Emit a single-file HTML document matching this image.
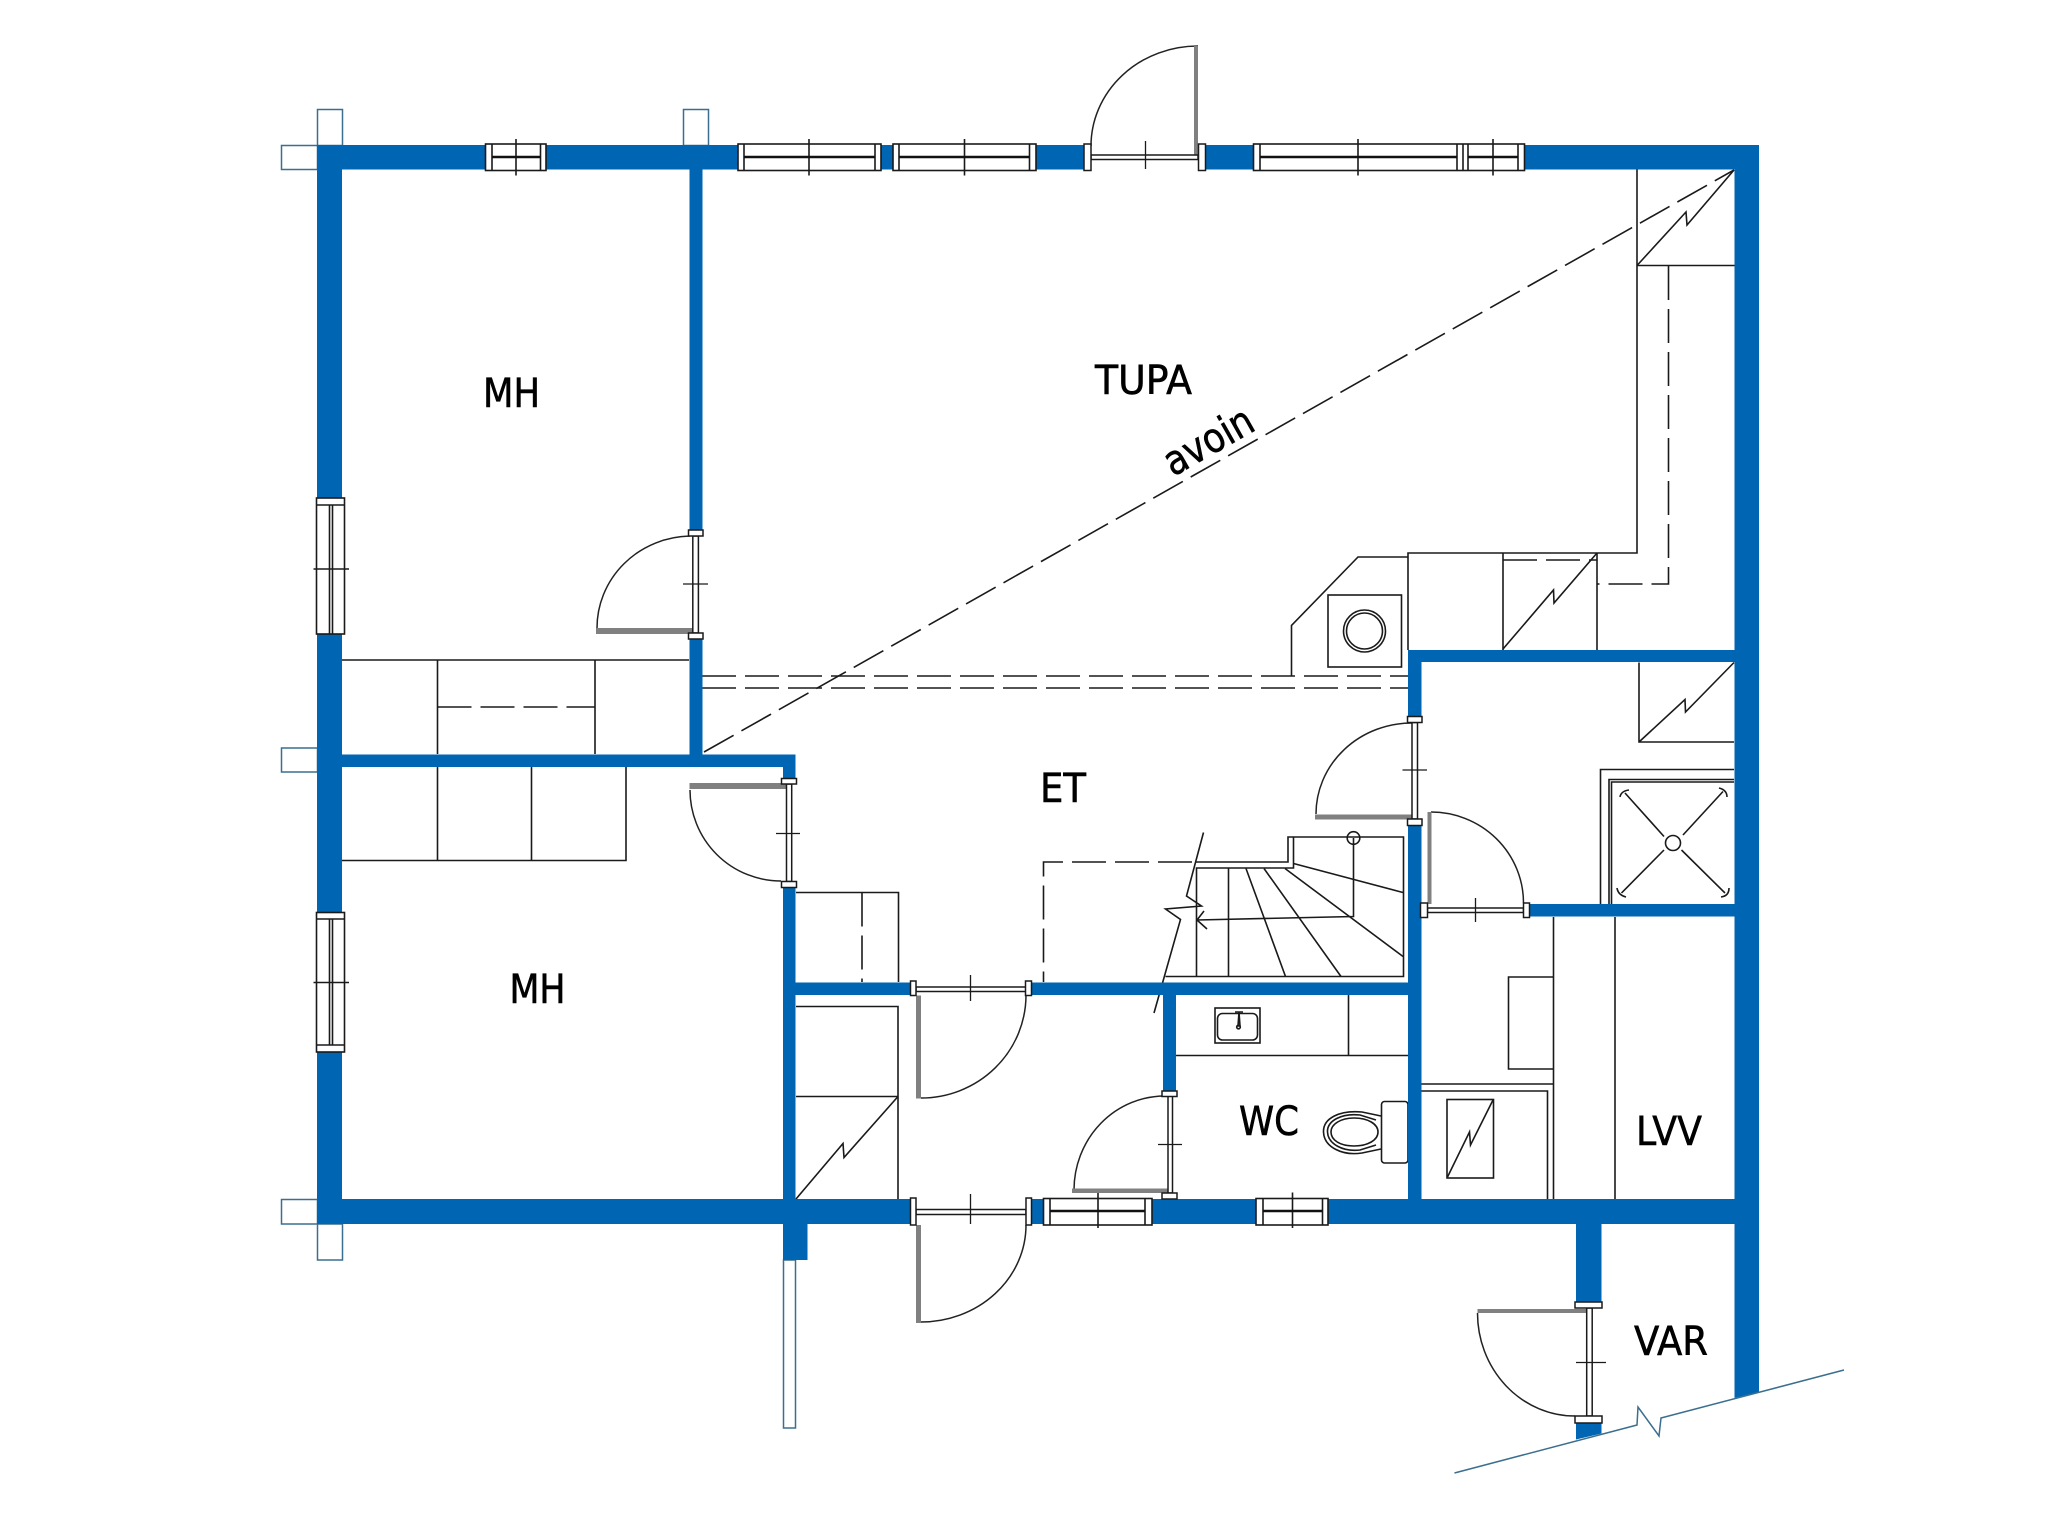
<!DOCTYPE html>
<html><head><meta charset="utf-8"><title>Floor plan</title>
<style>html,body{margin:0;padding:0;background:#fff}svg{display:block}
text{font-family:"DejaVu Sans","Liberation Sans",sans-serif;fill:#000;font-size:40px;stroke:#000;stroke-width:.6px}</style></head>
<body>
<svg width="2048" height="1536" viewBox="0 0 2048 1536" xmlns="http://www.w3.org/2000/svg">
<rect width="2048" height="1536" fill="#fff"/>

<!-- light outline stubs -->
<g fill="#fff" stroke="#3a6f8f" stroke-width="1.5">
<rect x="317.5" y="109.5" width="25" height="36"/><rect x="281.5" y="145.5" width="36" height="24"/>
<rect x="683.5" y="109.5" width="25" height="36"/><rect x="281.5" y="748" width="36" height="24"/>
<rect x="281.5" y="1199.5" width="36" height="24.5"/><rect x="317.5" y="1224" width="25" height="36"/>
<rect x="783.5" y="1260" width="12" height="168"/>
</g>

<!-- thin furniture lines -->
<g fill="none" stroke="#1a1a1a" stroke-width="1.6">
<path d="M342 660H689M437.5 660V754M595 660V754M342 860.5H626V767M437.5 767V860.5M531.5 767V860.5"/>
<path d="M796 892.5H898.5V982M796 1006.5H898V1199M796 1096.5H898"/>
<path d="M796 1199L843 1143.5L844 1157.5L898 1096.5"/>
<path d="M1637 169V553H1408V650M1503 553V650M1597 553V650M1637 265.5H1735"/>
<path d="M1637 265.5L1686 212L1687 225L1734 170"/>
<path d="M1503 649L1553.5 590L1554 603L1597 553"/>
<path d="M1408 557H1358L1291.5 625.5V676"/>
<rect x="1328" y="595" width="73.5" height="72"/>
<circle cx="1364.5" cy="631" r="21"/><circle cx="1364.5" cy="631" r="18"/>
<path d="M1734 742H1639V662.5M1639 742L1685 699.5L1685.5 712L1734 662.5"/>
<path d="M1600.5 904V769.5H1734M1609 904V779.5H1734M1611.5 904V782H1734"/>
<circle cx="1673" cy="843" r="7.5"/>
<path d="M1625 793L1664 836.5M1723 791.5L1683 835M1621.5 893L1664 850M1725 893L1681.5 850"/>
<path d="M1629 790Q1621 791 1620 797M1719 788Q1727 790 1727 797M1617 888Q1618 895 1626 897M1729 888Q1729 896 1721 897"/>
<path d="M1553.5 917V1199M1615 917V1199M1553.5 977H1508.5V1069H1553.5M1421 1084H1553.5M1421 1091H1547.5V1199"/>
<rect x="1447" y="1099.5" width="46.5" height="78.5"/>
<path d="M1447.5 1177L1469.5 1132L1470.5 1145L1493 1100"/>
<path d="M1176 1055.5H1408M1348.5 995V1055.5"/>
<rect x="1215" y="1008" width="45" height="35"/>
<rect x="1217.5" y="1013.5" width="40" height="26.5" rx="5"/>
<path d="M1235 1012H1243M1239 1012L1238 1026H1240L1239 1012"/><circle cx="1238.5" cy="1027" r="1.8"/>
<rect x="1381.5" y="1101.5" width="26.5" height="61.5" rx="3"/>
<path d="M1381 1116L1362 1112C1340 1110 1323 1118 1323.5 1132C1324 1147 1342 1156 1362 1153L1381 1149"/>
<path d="M1376 1120L1360 1115C1341 1113 1327 1121 1327.5 1132C1328 1144 1343 1152 1360 1150L1376 1145"/>
<path d="M1378 1132C1378 1140 1368 1146 1354 1146C1340 1146 1331 1140 1331 1132C1331 1124 1341 1118 1354 1118C1368 1118 1378 1124 1378 1132Z"/>
<!-- stairs -->
<path d="M1165.5 976.5H1403.5V837H1288V862H1196M1293.5 837V868H1196.5V976.5M1228.5 868V976.5"/>
<path d="M1246 868.5L1285.5 976.5M1264 868.5L1341 976.5M1285 868.5L1403 956.5M1293.5 863.5L1403 892.5"/>
<circle cx="1353.5" cy="838" r="6.3"/>
<path d="M1353.5 838V916.5L1197 920M1207 929L1197 920L1204 911"/>
<path d="M1203.5 832.5L1186.5 896L1201.5 906L1165.5 909L1180.5 919.5L1154 1013"/>
</g>

<!-- dashed lines -->
<g fill="none" stroke="#1a1a1a" stroke-width="1.6" stroke-dasharray="34 9">
<path d="M704 752L1734 170"/>
<path d="M702 676H1408M702 688H1408"/>
<path d="M437.5 707H595"/>
<path d="M862 892.5V982"/>
<path d="M1668.5 266V584H1597"/>
<path d="M1503 560H1597"/>
<path d="M1192 862H1043.5V982"/>
</g>

<!-- walls -->
<g fill="#0066b3">
<rect x="317" y="145" width="1441.5" height="24.5"/>
<rect x="1734.5" y="145" width="24.5" height="1247"/>
<path d="M1734.5 1398L1759 1392H1734.5Z"/>
<rect x="317" y="145" width="25" height="1079"/>
<rect x="317" y="1199" width="1442" height="25"/>
<rect x="689.5" y="169" width="13" height="586"/>
<rect x="342" y="754.5" width="453.5" height="12.5"/>
<rect x="783" y="754.5" width="12.5" height="470"/>
<rect x="783" y="1224" width="24.5" height="36"/>
<rect x="795" y="982.5" width="613" height="12.5"/>
<rect x="1408" y="650" width="13.5" height="550"/>
<rect x="1408" y="650" width="327" height="12"/>
<rect x="1163" y="995" width="13" height="96"/>
<rect x="1529.5" y="904" width="205" height="12.5"/>
<rect x="1576" y="1224" width="25.5" height="80"/>
<path d="M1576 1420H1601.5V1433.5L1576 1439.5Z"/>
</g>

<!-- door openings cut out of the walls -->
<g fill="#fff">
<rect x="1091" y="144" width="107.5" height="27"/>
<rect x="688" y="536" width="16" height="97"/>
<rect x="1406" y="722" width="17" height="97"/>
<rect x="1427" y="903" width="97" height="15"/>
<rect x="781" y="784" width="16" height="98"/>
<rect x="916" y="981" width="110" height="15"/>
<rect x="916" y="1198" width="110" height="27"/>
<rect x="1161" y="1096" width="17" height="97"/>
<rect x="1574" y="1308" width="29" height="108"/>
</g>

<!-- ground line -->
<path d="M1454.5 1473L1637 1425L1638 1407L1659 1436L1661 1418L1844 1370" fill="none" stroke="#3a6f8f" stroke-width="1.5"/>

<!-- windows -->
<g fill="#fff" stroke="#1a1a1a" stroke-width="1.6">
<rect x="485.5" y="144" width="60.5" height="26.5"/>
<rect x="738" y="144" width="143" height="26.5"/>
<rect x="893" y="144" width="143" height="26.5"/>
<rect x="1253.5" y="144" width="271" height="26.5"/>
<rect x="1043.5" y="1198.5" width="108.5" height="26.5"/>
<rect x="1256" y="1198.5" width="72" height="26.5"/>
<rect x="316.5" y="498" width="28" height="136"/>
<rect x="316.5" y="912.5" width="28" height="139.5"/>
</g>
<g fill="none" stroke="#1a1a1a" stroke-width="1.6">
<path d="M492 144V170.5M540.5 144V170.5M516 139V175.5"/>
<path d="M744 144V170.5M875 144V170.5M809 139V175.5"/>
<path d="M899 144V170.5M1029.5 144V170.5M964.5 139V175.5"/>
<path d="M1260 144V170.5M1457 144V170.5M1463 144V170.5M1468 144V170.5M1518 144V170.5M1358 139V175.5M1493 139V175.5"/>
<path d="M1050 1198.5V1225M1145 1198.5V1225M1098 1192V1228"/>
<path d="M1263 1198.5V1225M1322.5 1198.5V1225M1292.5 1192.5V1228"/>
<path d="M316.5 505H344.5M329.5 505V634M332.5 505V634M313.5 569H349"/>
<path d="M316.5 919H344.5M329.5 919V1045M332.5 919V1045M316.5 1045H344.5M313.5 982.5H349"/>
</g>
<g stroke="#111" stroke-width="2.5">
<path d="M492 157H540.5M744 157H875M899 157H1029.5M1260 157H1457M1468 157H1518M1263 1211H1322.5M1050 1211H1145"/>
</g>

<!-- doors: frames, leaves, arcs, jambs -->
<g fill="none" stroke="#222" stroke-width="1.5">
<path d="M1198 46A107 100 0 0 0 1091 146"/>
<path d="M597 628A95 92 0 0 1 690 536"/>
<path d="M1316 814A96 91 0 0 1 1412 723"/>
<path d="M1431 812A92.5 91 0 0 1 1523.5 903"/>
<path d="M690 790A91 91 0 0 0 781 881"/>
<path d="M921 1098A105 103 0 0 0 1026 995"/>
<path d="M921 1322A105 97 0 0 0 1026 1225"/>
<path d="M1074 1190A91 94 0 0 1 1165 1096"/>
<path d="M1477.5 1313A97.5 103 0 0 0 1575 1416"/>
</g>
<g fill="#808080">
<rect x="1194" y="46" width="4" height="109"/>
<rect x="596" y="628" width="97" height="6"/>
<rect x="1315" y="814.5" width="97" height="5"/>
<rect x="1427.5" y="812" width="4" height="92"/>
<rect x="689.5" y="783" width="97" height="6"/>
<rect x="916" y="995.5" width="5" height="103"/>
<rect x="916" y="1225" width="5" height="98"/>
<rect x="1072" y="1188.5" width="96" height="4.5"/>
<rect x="1477.5" y="1309" width="109" height="4"/>
</g>
<g fill="#fff" stroke="#1a1a1a" stroke-width="1.5">
<rect x="1091" y="155" width="107" height="4.5"/>
<rect x="692.8" y="536" width="5.6" height="97"/>
<rect x="1412" y="722.5" width="5.5" height="96.5"/>
<rect x="1427.5" y="908" width="96" height="4.5"/>
<rect x="786.5" y="784" width="5.2" height="97.5"/>
<rect x="916" y="987" width="110" height="4.5"/>
<rect x="916" y="1209.5" width="110" height="5"/>
<rect x="1168" y="1096" width="4.5" height="97"/>
<rect x="1586.7" y="1308" width="5.5" height="108"/>
<rect x="1084" y="144" width="7" height="26.5"/><rect x="1198.5" y="144" width="7" height="26.5"/>
<rect x="688.5" y="530" width="14.5" height="6"/><rect x="688.5" y="633" width="14.5" height="6"/>
<rect x="1407.5" y="716.5" width="14.5" height="6"/><rect x="1407.5" y="819" width="14.5" height="6.5"/>
<rect x="1420.5" y="903" width="7" height="14.5"/><rect x="1523.5" y="903" width="6" height="14.5"/>
<rect x="781.5" y="778.5" width="15" height="5.5"/><rect x="781.5" y="881.5" width="15" height="6"/>
<rect x="910.5" y="981" width="5.5" height="14.5"/><rect x="1025.5" y="981" width="6" height="14.5"/>
<rect x="910.5" y="1198" width="5.5" height="27"/><rect x="1026" y="1198" width="5.5" height="27"/>
<rect x="1162" y="1091" width="15" height="5.5"/><rect x="1162" y="1193" width="15" height="6"/>
<rect x="1575" y="1302" width="27" height="6"/><rect x="1575" y="1416" width="27" height="7"/>
</g>
<g fill="none" stroke="#1a1a1a" stroke-width="1.3">
<path d="M1145.5 141V169M683 584H708M1402.5 770H1427M1475.5 898V922M776 833.5H800M970.5 975V1001M970.5 1194V1224M1158 1144.5H1182M1576 1362.5H1606"/>
</g>

<!-- labels -->
<text x="483" y="407" textLength="57" lengthAdjust="spacingAndGlyphs">MH</text>
<text x="509.5" y="1003" textLength="56" lengthAdjust="spacingAndGlyphs">MH</text>
<text x="1095" y="394" textLength="97" lengthAdjust="spacingAndGlyphs">TUPA</text>
<text x="1040" y="802" textLength="46" lengthAdjust="spacingAndGlyphs">ET</text>
<text x="1239" y="1135" textLength="60" lengthAdjust="spacingAndGlyphs">WC</text>
<text x="1636" y="1145" textLength="66" lengthAdjust="spacingAndGlyphs">LVV</text>
<text x="1634" y="1355" textLength="74" lengthAdjust="spacingAndGlyphs">VAR</text>
<text transform="translate(1173 477) rotate(-29.5)" style="font-size:41px" textLength="97" lengthAdjust="spacingAndGlyphs">avoin</text>
</svg>
</body></html>
